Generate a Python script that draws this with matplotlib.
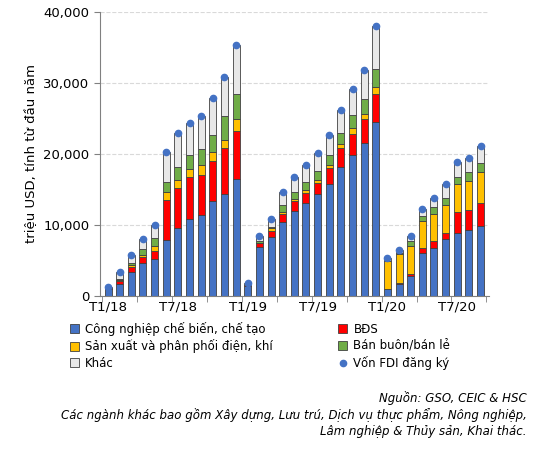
import numpy as np
import matplotlib.pyplot as plt
from matplotlib.patches import Patch
from matplotlib.lines import Line2D

# cumulative tops (thousand million USD)
blue_top = [1.0, 1.7, 3.4, 4.6, 5.2, 7.9, 9.6, 10.8, 11.4, 13.3, 14.3, 16.5,
            1.4, 6.9, 8.3, 10.4, 12.0, 13.1, 14.4, 15.8, 18.1, 19.8, 21.5, 24.5,
            0.9, 1.7, 2.8, 6.0, 6.8, 8.0, 8.9, 9.3, 9.9]
red_top = [1.1, 2.1, 4.1, 5.4, 6.3, 13.5, 15.2, 16.7, 17.1, 19.0, 20.8, 23.2,
           1.45, 7.4, 9.2, 11.5, 13.3, 14.5, 15.9, 18.0, 20.8, 22.8, 24.9, 28.5,
           1.0, 1.8, 3.1, 6.7, 7.7, 8.9, 11.8, 12.1, 13.1]
yellow_top = [1.1, 2.2, 4.3, 5.7, 7.0, 14.6, 16.3, 17.9, 18.5, 20.3, 22.0, 24.9,
              1.5, 7.5, 9.5, 11.8, 13.6, 14.9, 16.3, 18.4, 21.4, 23.6, 25.6, 29.4,
              4.9, 5.9, 7.0, 10.6, 11.6, 12.8, 15.7, 16.2, 17.4]
green_top = [1.15, 2.4, 4.6, 6.6, 8.2, 16.1, 18.1, 19.8, 20.7, 22.7, 25.4, 28.5,
             1.55, 7.7, 9.7, 12.8, 14.6, 16.1, 17.6, 19.8, 22.9, 25.5, 27.8, 32.0,
             4.95, 6.1, 7.7, 11.3, 12.5, 13.8, 16.8, 17.4, 18.7]
total = [1.27, 3.3, 5.8, 8.0, 10.0, 20.3, 22.9, 24.3, 25.3, 27.9, 30.8, 35.4,
         1.8, 8.4, 10.8, 14.6, 16.7, 18.4, 20.1, 22.7, 26.2, 29.1, 31.8, 38.0,
         5.3, 6.4, 8.5, 12.3, 13.8, 15.7, 18.8, 19.5, 21.1]
tick_labels = ["T1/18", "T7/18", "T1/19", "T7/19", "T1/20", "T7/20"]

names = ["Công nghiệp chế biến, chế tạo", "BĐS", "Sản xuất và phân phối điện, khí",
         "Bán buôn/bán lẻ", "Khác"]
colors = ["#4472C4", "#FF0000", "#FFC000", "#70AD47", "#E8E8E8"]

tops = np.array([blue_top, red_top, yellow_top, green_top, total]) * 1000
x = np.arange(len(total))

fig = plt.figure(figsize=(5.4, 4.68), dpi=100)
ax = fig.add_axes([0.185, 0.368, 0.72, 0.606])
bottom = np.zeros(len(x))
for top, c in zip(tops, colors):
    ax.bar(x, top - bottom, bottom=bottom, width=0.6, color=c,
           edgecolor="#404040", linewidth=0.6, zorder=2)
    bottom = top
ax.plot(x, tops[-1], "o", color="#4472C4", ms=4.5, ls="none", zorder=3)

ax.set_ylim(0, 40000)
ax.set_yticks(range(0, 40001, 10000))
ax.set_yticklabels([f"{v:,}" for v in range(0, 40001, 10000)], fontsize=9.5)
ax.set_xlim(-0.7, len(x) - 0.3)
ax.set_xticks(np.arange(0, len(x), 6))
ax.set_xticklabels(tick_labels, fontsize=9.5)
ax.tick_params(axis="x", length=0)
ax.set_xticks(np.arange(-0.5, len(x), 3), minor=True)
ax.tick_params(axis="x", which="minor", length=4, color="#808080")
ax.tick_params(axis="y", length=4, color="#808080")
ax.grid(axis="y", ls="--", color="#D9D9D9", zorder=0)
for s in ["top", "right"]:
    ax.spines[s].set_visible(False)
for s in ["left", "bottom"]:
    ax.spines[s].set_color("#808080")
ax.set_ylabel("triệu USD, tính từ đầu năm", fontsize=9.5)

handles = [Patch(facecolor=c, edgecolor="#404040", linewidth=0.6) for c in colors]
handles.append(Line2D([], [], marker="o", color="#4472C4", ls="none", ms=4.5))
labels = names + ["Vốn FDI đăng ký"]
order = [0, 2, 4, 1, 3, 5]  # row-wise fill like the original
fig.legend([handles[i] for i in order], [labels[i] for i in order], ncol=2,
           loc="upper left", bbox_to_anchor=(0.11, 0.335), frameon=False,
           fontsize=8.5, handlelength=0.8, handleheight=0.8, columnspacing=5.5,
           labelspacing=0.3, handletextpad=0.5)

fig.text(0.975, 0.115, "Nguồn: GSO, CEIC & HSC\n"
         "Các ngành khác bao gồm Xây dựng, Lưu trú, Dịch vụ thực phẩm, Nông nghiệp,\n"
         "Lâm nghiệp & Thủy sản, Khai thác.",
         ha="right", va="center", fontsize=8.5, style="italic", linespacing=1.3,
         multialignment="right")

fig.savefig("out.png", dpi=100)
